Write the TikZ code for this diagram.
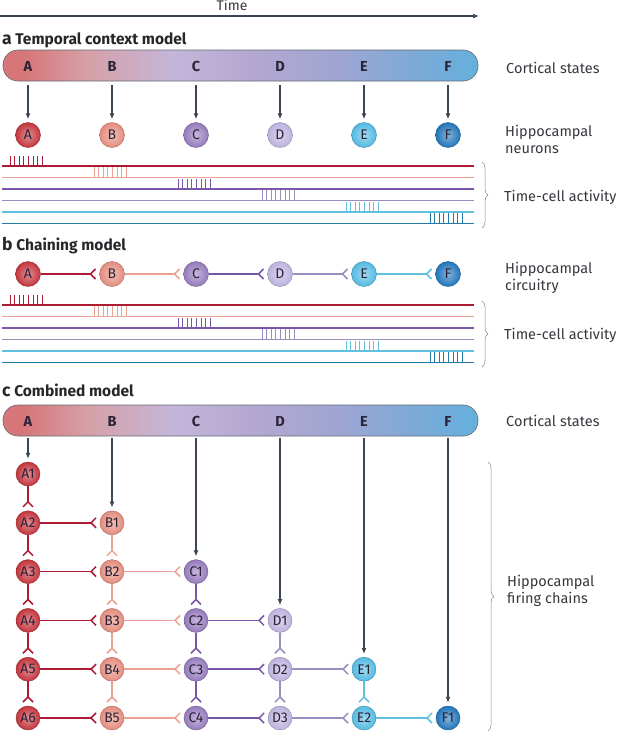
\documentclass[tikz,border=0pt]{standalone}
\usepackage{fontspec}
\setmainfont{Fira Sans}
\usetikzlibrary{arrows.meta, positioning, decorations.pathreplacing, calc}

\definecolor{SlateArrow}{RGB}{58,70,82}
\definecolor{TextGrey}{RGB}{55,55,62}
\definecolor{LetterDark}{RGB}{45,35,55}
\definecolor{BraceGrey}{RGB}{135,135,140}
% neuron colours
\definecolor{colA}{RGB}{196,52,60}
\definecolor{colB}{RGB}{228,140,125}
\definecolor{colC}{RGB}{148,122,188}
\definecolor{colD}{RGB}{188,178,222}
\definecolor{colE}{RGB}{82,186,226}
\definecolor{colF}{RGB}{32,116,186}
% spike-train and chain line colours
\definecolor{lnA}{RGB}{172,26,52}
\definecolor{lnB}{RGB}{236,162,146}
\definecolor{lnC}{RGB}{122,86,168}
\definecolor{lnD}{RGB}{152,142,192}
\definecolor{lnE}{RGB}{96,192,222}
\definecolor{lnF}{RGB}{36,122,166}
% cortical bar
\definecolor{barA}{RGB}{214,118,120}
\definecolor{barB}{RGB}{214,160,168}
\definecolor{barC}{RGB}{196,182,218}
\definecolor{barD}{RGB}{180,168,208}
\definecolor{barE}{RGB}{160,165,210}
\definecolor{barF}{RGB}{122,170,215}
\definecolor{barG}{RGB}{100,176,222}
\pgfdeclarehorizontalshading{cortex}{100bp}{color(0bp)=(barA); color(27bp)=(barA);
  color(34bp)=(barB); color(43bp)=(barC); color(51bp)=(barD); color(60bp)=(barE);
  color(69bp)=(barF); color(75bp)=(barG); color(100bp)=(barG)}

\begin{document}
\begin{tikzpicture}[x=1pt, y=-1pt,
    lbl/.style={anchor=west, inner sep=0pt, text=TextGrey, align=left, font=\fontsize{14.5}{17}\selectfont},
    head/.style={anchor=west, inner sep=0pt, text=TextGrey!70!black, font=\fontsize{15.5}{17}\selectfont\bfseries},
    cbar/.style={draw=SlateArrow!80, line width=0.6pt, rounded corners=15pt, shading=cortex,
                 minimum width=475pt, minimum height=31pt, inner sep=0pt},
    barlet/.style={inner sep=0pt, text=LetterDark, font=\fontsize{14.5}{14.5}\selectfont\bfseries},
    cell/.style={circle, minimum size=25pt, inner sep=0pt, draw=#1!75!black, line width=0.4pt,
                 inner color=#1!55!white, outer color=#1, text=LetterDark, font=\fontsize{14}{14}\selectfont},
    cortarrow/.style={draw=SlateArrow, line width=1.2pt, -{Latex[length=6pt, width=5pt]}},
    syn/.style={draw=#1, line width=1.5pt, -{Straight Barb[reversed, length=5pt, width=10pt]}, shorten >=3pt},
    brc/.style={draw=BraceGrey, line width=0.5pt, decorate, decoration={brace, amplitude=6pt}}]

  \useasboundingbox (0,0) rectangle (619,732);

  % time axis
  \coordinate (t0) at (0,16);
  \coordinate (t1) at (479,16);
  \draw[cortarrow] (t0) -- (t1);
  \node[text=TextGrey, font=\fontsize{14}{14}\selectfont] (time) at (232,5) {Time};

  % a: temporal context model
  \node[head] (ha) at (2,40) {{\fontsize{17.5}{17}\selectfont a} Temporal context model};
  \node[cbar] (barA) at (240.5,65.5) {};
  \foreach \l [count=\i] in {A,B,C,D,E,F}{
    \node[barlet] (a\l) at ({28+84*(\i-1)},66) {\l};
    \node[cell=col\l] (na\l) at ({28+84*(\i-1)},135) {\l};
    \draw[cortarrow, shorten <=4pt, shorten >=3pt] (a\l |- barA.south) -- (na\l);
  }
  \node[lbl] (cs1) at (506,68) {Cortical states};
  \node[lbl] (hn) at (505,139) {Hippocampal\\neurons};

  % spike trains, panels a and b
  \foreach \base in {166,305}{
    \foreach \c/\w [count=\i] in {lnA/1.1,lnB/1.1,lnC/1.1,lnD/1.1,lnE/1.1,lnF/1.9}{
      \pgfmathsetmacro\yy{\base+11.5*(\i-1)}
      \draw[\c, line width=\w pt] (2,\yy) -- (474,\yy);
      \foreach \k in {0,...,7}
        \draw[\c, line width=0.8pt] ({28+84*(\i-1)-18+4.6*\k},\yy) -- ++(0,-10.5);
    }
  }
  \draw[brc] (482,162) -- (482,228);
  \node[lbl] (tc1) at (504,197) {Time-cell activity};

  % b: chaining model
  \node[head] (hb) at (2,246) {{\fontsize{17.5}{17}\selectfont b} Chaining model};
  \foreach \l [count=\i] in {A,B,C,D,E,F}
    \node[cell=col\l] (nb\l) at ({28+84*(\i-1)},274) {\l};
  \foreach \l/\nx in {A/B,B/C,C/D,D/E,E/F}
    \draw[syn=ln\l] (nb\l) -- (nb\nx);
  \node[lbl] (hc) at (505,278) {Hippocampal\\circuitry};
  \draw[brc] (482,301) -- (482,367);
  \node[lbl] (tc2) at (504,335) {Time-cell activity};

  % c: combined model
  \node[head] (hcm) at (2,390) {{\fontsize{17.5}{17}\selectfont c} Combined model};
  \node[cbar] (barC) at (240.5,420.5) {};
  \foreach \l [count=\i] in {A,B,C,D,E,F}{
    \node[barlet] (c\l) at ({28+84*(\i-1)},421) {\l};
    \foreach \r in {\i,...,6}{
      \pgfmathtruncatemacro\n{\r-\i+1}
      \node[cell=col\l, minimum size=24pt] (\l\n) at ({28+84*(\i-1)},{474+48.8*(\r-1)}) {\l\n};
    }
    \draw[cortarrow, shorten <=2pt, shorten >=3pt] (c\l |- barC.south) -- (\l1);
  }
  % vertical links
  \foreach \l/\top [count=\i] in {A/5,B/4,C/3,D/2,E/1}
    \foreach \n in {1,...,\top}{
      \pgfmathtruncatemacro\m{\n+1}
      \draw[syn=ln\l] (\l\n) -- (\l\m);
    }
  % horizontal links
  \foreach \l/\nx/\top in {A/B/5,B/C/4,C/D/3,D/E/2,E/F/1}
    \foreach \n in {1,...,\top}{
      \pgfmathtruncatemacro\m{\n+1}
      \draw[syn=ln\l] (\l\m) -- (\nx\n);
    }
  \node[lbl] (cs2) at (506,421) {Cortical states};
  \draw[brc] (488,462) -- (488,731);
  \node[lbl] (hfc) at (507,591) {Hippocampal\\firing chains};
\end{tikzpicture}
\end{document}
